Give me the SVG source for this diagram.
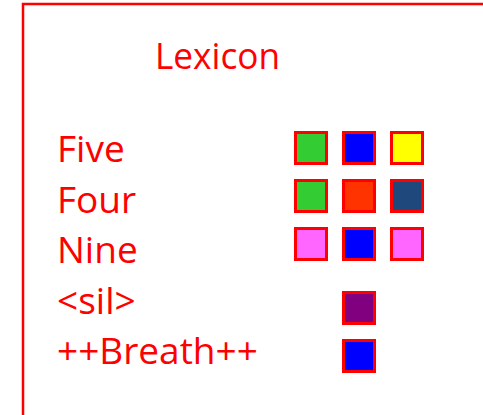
<svg xmlns="http://www.w3.org/2000/svg" width="483" height="415" viewBox="0 0 483 415">
<style>
.t{font-family:"Open Sans","Liberation Sans",sans-serif;font-size:37px;fill:#FF0000}
.sq{stroke:#FF0000;stroke-width:3}
</style>
<rect x="0" y="0" width="483" height="415" fill="#FFFFFF"/>
<rect id="frame" x="23" y="4" width="480" height="430" fill="none" stroke="#FF0000" stroke-width="2.5"/>
<g id="title"><text class="t" x="155" y="69" style="font-size:36px" textLength="125" lengthAdjust="spacingAndGlyphs">Lexicon</text></g>
<g id="labels">
<text class="t" x="57" y="162">Five</text>
<text class="t" x="57" y="213">Four</text>
<text class="t" x="57" y="263">Nine</text>
<text class="t" x="57" y="314">&lt;sil&gt;</text>
<text class="t" x="57" y="364">++Breath++</text>
</g>
<g id="five">
<rect class="sq" x="295.5" y="132.5" width="31" height="31" fill="#33CC33"/>
<rect class="sq" x="343.5" y="132.5" width="31" height="31" fill="#0000FF"/>
<rect class="sq" x="391.5" y="132.5" width="31" height="31" fill="#FFFF00"/>
</g>
<g id="four">
<rect class="sq" x="295.5" y="180.5" width="31" height="31" fill="#33CC33"/>
<rect class="sq" x="343.5" y="180.5" width="31" height="31" fill="#FF3300"/>
<rect class="sq" x="391.5" y="180.5" width="31" height="31" fill="#1F497D"/>
</g>
<g id="nine">
<rect class="sq" x="295.5" y="228.5" width="31" height="31" fill="#FF66FF"/>
<rect class="sq" x="343.5" y="228.5" width="31" height="31" fill="#0000FF"/>
<rect class="sq" x="391.5" y="228.5" width="31" height="31" fill="#FF66FF"/>
</g>
<g id="sil"><rect class="sq" x="343.5" y="292.5" width="31" height="31" fill="#800080"/></g>
<g id="breath"><rect class="sq" x="343.5" y="340.5" width="31" height="31" fill="#0000FF"/></g>
<g id="connectors"></g>
</svg>
